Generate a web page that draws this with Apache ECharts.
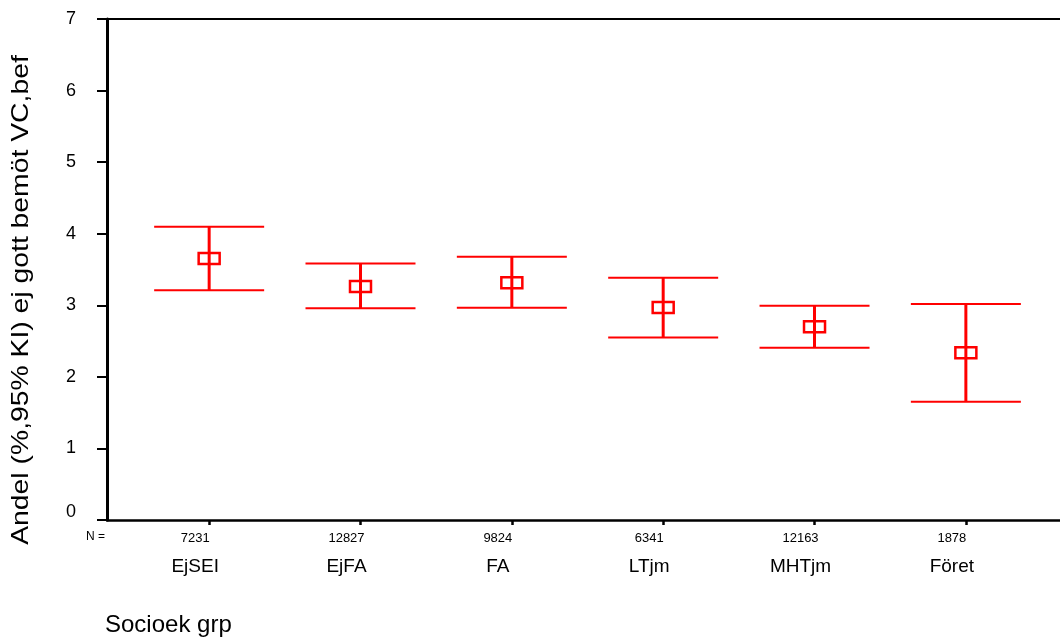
<!DOCTYPE html>
<html><head><meta charset="utf-8">
<script src="https://cdn.jsdelivr.net/npm/echarts@6/dist/echarts.min.js"></script>
<style>html,body{margin:0;padding:0;background:#fff}#c{width:1060px;height:639px}</style>
</head><body><div id="c"></div>
<script>
const categories = ['EjSEI','EjFA','FA','LTjm','MHTjm','Föret'];
const counts = [7231, 12827, 9824, 6341, 12163, 1878];
const means = [3.655, 3.264, 3.314, 2.97, 2.70, 2.337];
const upper = [4.096, 3.585, 3.677, 3.384, 2.993, 3.017];
const lower = [3.21, 2.96, 2.965, 2.55, 2.406, 1.652];
const yTicks = [0,1,2,3,4,5,6,7];

const data = categories.map((c,i)=>[i, means[i], lower[i], upper[i]]);
const chart = echarts.init(document.getElementById('c'));
const RED = '#ff0000';
const FONT = 'Liberation Sans, Arial, sans-serif';
chart.setOption({
  animation:false,
  grid:{left:107, right:0, top:19, bottom:119, containLabel:false},
  xAxis:[{
    type:'value', min:-0.675, max:5.622,
    axisLine:{show:true, onZero:false, lineStyle:{color:'#000', width:2.5}},
    axisTick:{show:true, customValues:categories.map((c,i)=>i), length:5, lineStyle:{color:'#000', width:2.5}},
    axisLabel:{show:true, customValues:categories.map((c,i)=>i), margin:8, padding:[0,28,0,0],
      formatter:v=>{const i=Math.round(v); return '{n|'+counts[i]+'}\n{c|'+categories[i]+'}';},
      rich:{n:{fontSize:13, fontFamily:FONT, color:'#000', lineHeight:20},
            c:{fontSize:19, fontFamily:FONT, color:'#000', lineHeight:38}}},
    splitLine:{show:false}
  },{
    type:'value', position:'top', min:-0.675, max:5.622,
    axisLine:{show:true, onZero:false, lineStyle:{color:'#000', width:2}},
    axisTick:{show:false}, axisLabel:{show:false}, splitLine:{show:false}
  }],
  yAxis:{
    type:'value', min:0, max:7, interval:1,
    axisLine:{show:true, onZero:false, lineStyle:{color:'#000', width:3}},
    axisTick:{show:true, inside:false, length:10, lineStyle:{color:'#000', width:2}},
    axisLabel:{margin:31, fontSize:18, fontFamily:FONT, color:'#000',
      formatter:v=>yTicks.includes(v)?(v===0?'{z|0}':String(v)):'',
      rich:{z:{fontSize:18, fontFamily:FONT, color:'#000', padding:[0,0,16,0]}}},
    splitLine:{show:false}
  },
  graphic:[
    {type:'text', left:86, top:531, style:{text:'N =', fontSize:12, fontFamily:FONT, fill:'#000'}},
    {type:'text', left:105, top:613, style:{text:'Socioek grp', fontSize:24, fontFamily:FONT, fill:'#000'}},
    {type:'text', x:21, y:300, rotation:Math.PI/2, scaleX:1.18, style:{text:'Andel (%,95% KI) ej gott bemöt VC,bef', fontSize:24, fontFamily:FONT, fill:'#000', align:'center', verticalAlign:'middle'}}
  ],
  series:[{
    type:'custom',
    data:data,
    renderItem:(params, api)=>{
      const x = api.value(0);
      const m = api.coord([x, api.value(1)]);
      const lo = api.coord([x, api.value(2)]);
      const hi = api.coord([x, api.value(3)]);
      const cw = 55, bw = 10.5, bh = 5.5;
      return {type:'group', children:[
        {type:'line', shape:{x1:m[0], y1:hi[1], x2:m[0], y2:lo[1]}, style:{stroke:RED, lineWidth:3}},
        {type:'line', shape:{x1:m[0]-cw, y1:hi[1], x2:m[0]+cw, y2:hi[1]}, style:{stroke:RED, lineWidth:2}},
        {type:'line', shape:{x1:m[0]-cw, y1:lo[1], x2:m[0]+cw, y2:lo[1]}, style:{stroke:RED, lineWidth:2}},
        {type:'rect', shape:{x:m[0]-bw, y:m[1]-bh, width:2*bw, height:2*bh}, style:{stroke:RED, fill:'none', lineWidth:2.5}}
      ]};
    }
  }]
});
</script></body></html>
